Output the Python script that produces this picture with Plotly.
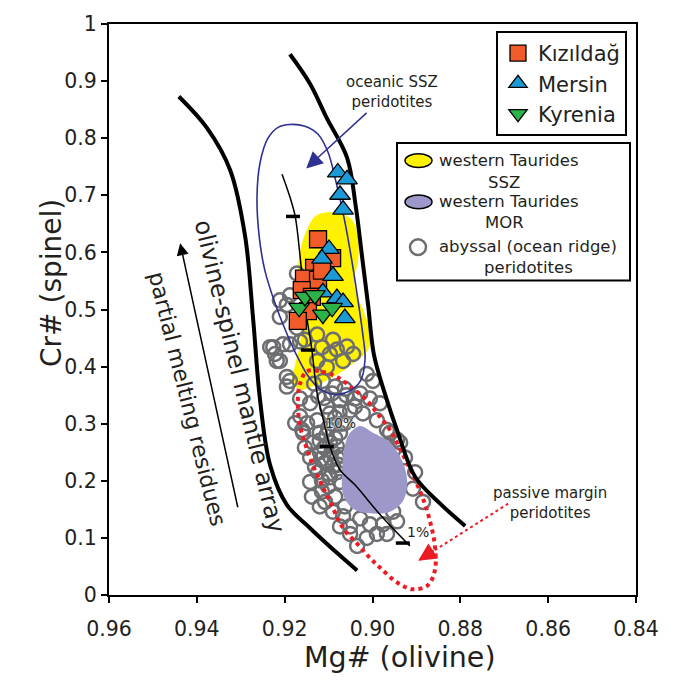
import plotly.graph_objects as go

FONT = "DejaVu Sans"

# ---------------- axes ----------------
x_tick_vals = [0.96, 0.94, 0.92, 0.90, 0.88, 0.86, 0.84]
x_tick_text = ["0.96", "0.94", "0.92", "0.90", "0.88", "0.86", "0.84"]
y_tick_vals = [0, 0.1, 0.2, 0.3, 0.4, 0.5, 0.6, 0.7, 0.8, 0.9, 1.0]
y_tick_text = ["0", "0.1", "0.2", "0.3", "0.4", "0.5", "0.6", "0.7", "0.8", "0.9", "1"]

# ---------------- sample data ----------------
kizildag_mg = [0.9124, 0.9092, 0.9133, 0.9156, 0.9124, 0.9161, 0.9138, 0.9147, 0.9170, 0.9115]
kizildag_cr = [0.623, 0.590, 0.573, 0.554, 0.552, 0.534, 0.522, 0.497, 0.480, 0.568]

mersin_mg = [0.9079, 0.9058, 0.9074, 0.9067, 0.9099, 0.9090, 0.9113, 0.9081, 0.9067, 0.9063, 0.9115]
mersin_cr = [0.740, 0.728, 0.701, 0.675, 0.606, 0.559, 0.530, 0.520, 0.513, 0.485, 0.589]

kyrenia_mg = [0.9167, 0.9154, 0.9131, 0.9113, 0.9092]
kyrenia_cr = [0.503, 0.522, 0.525, 0.491, 0.503]

abyssal_mg = [0.9172, 0.9211, 0.9195, 0.9211, 0.9188, 0.9226, 0.9204, 0.9222, 0.9211, 0.9188,
              0.9165, 0.9172, 0.9154, 0.9126, 0.9115, 0.9090, 0.9081, 0.9058, 0.9097, 0.9067,
              0.9044, 0.9126, 0.9104, 0.9188, 0.9195, 0.9133, 0.9113, 0.9013, 0.8999, 0.9028,
              0.9165, 0.9149, 0.9158, 0.9126, 0.9104, 0.9074, 0.9051, 0.9022, 0.8990, 0.8967,
              0.8944, 0.8967, 0.8960, 0.8937, 0.8908, 0.8885, 0.8953, 0.8976, 0.8967, 0.9135,
              0.9120, 0.9097, 0.9074, 0.9085, 0.9120, 0.9142, 0.9108, 0.9081, 0.9124, 0.9097,
              0.9074, 0.9142, 0.9115, 0.9085, 0.9108, 0.9063, 0.9131, 0.9063, 0.9154, 0.9101,
              0.9090, 0.9067, 0.9051, 0.9028, 0.9006, 0.8990, 0.9051, 0.9013, 0.9035, 0.9074,
              0.8944, 0.8903, 0.8926, 0.8983, 0.9006, 0.9120, 0.9138, 0.9165, 0.9142, 0.9124,
              0.9176, 0.9092, 0.9063, 0.9040, 0.9195, 0.9160, 0.9233, 0.9218,
              0.9097, 0.9085, 0.9110, 0.9090, 0.9101, 0.9120, 0.9081, 0.9070, 0.9095, 0.9115,
              0.9080, 0.9060, 0.9040, 0.9110, 0.9085,
              0.9088, 0.9075, 0.9105, 0.9093, 0.9078, 0.9117, 0.9070, 0.9100]
abyssal_cr = [0.563, 0.516, 0.508, 0.487, 0.525, 0.434, 0.439, 0.422, 0.410, 0.439,
              0.444, 0.468, 0.447, 0.456, 0.434, 0.447, 0.430, 0.435, 0.422, 0.410,
              0.422, 0.410, 0.399, 0.375, 0.365, 0.370, 0.375, 0.387, 0.375, 0.353,
              0.313, 0.301, 0.284, 0.306, 0.330, 0.341, 0.323, 0.318, 0.306, 0.289,
              0.272, 0.262, 0.284, 0.267, 0.186, 0.163, 0.146, 0.124, 0.107, 0.267,
              0.250, 0.267, 0.284, 0.310, 0.284, 0.241, 0.232, 0.241, 0.215, 0.206,
              0.198, 0.198, 0.181, 0.172, 0.163, 0.155, 0.224, 0.301, 0.258, 0.292,
              0.146, 0.138, 0.120, 0.134, 0.124, 0.107, 0.107, 0.100, 0.086, 0.120,
              0.129, 0.215, 0.241, 0.336, 0.344, 0.155, 0.172, 0.344, 0.336, 0.348,
              0.301, 0.353, 0.361, 0.344, 0.382, 0.289, 0.434, 0.410,
              0.318, 0.275, 0.258, 0.225, 0.190, 0.270, 0.260, 0.245, 0.240, 0.200,
              0.215, 0.350, 0.330, 0.345, 0.365,
              0.298, 0.320, 0.280, 0.252, 0.228, 0.238, 0.300, 0.212]

# ---------------- fields / curves ----------------
array_left_mg = [0.9441, 0.9377, 0.9324, 0.9290, 0.9272, 0.9256, 0.9233, 0.9195, 0.9142, 0.9074, 0.9035]
array_left_cr = [0.873, 0.818, 0.744, 0.628, 0.485, 0.341, 0.227, 0.158, 0.117, 0.069, 0.043]
array_right_mg = [0.9188, 0.9142, 0.9104, 0.9058, 0.9038, 0.9024, 0.9010, 0.8997, 0.8972, 0.8942, 0.8903, 0.8846, 0.8789]
array_right_cr = [0.947, 0.895, 0.835, 0.766, 0.680, 0.594, 0.508, 0.422, 0.353, 0.284, 0.207, 0.160, 0.121]

melt_mg = [0.9206, 0.9188, 0.9176, 0.9165, 0.9156, 0.9147, 0.9138, 0.9126, 0.9110, 0.9097, 0.9074, 0.9040, 0.8983, 0.8915]
melt_cr = [0.737, 0.697, 0.663, 0.594, 0.525, 0.473, 0.429, 0.353, 0.301, 0.260, 0.219, 0.193, 0.141, 0.086]
melt_tick_mg = [0.9181, 0.9147, 0.9104, 0.8931]
melt_tick_cr = [0.663, 0.429, 0.260, 0.091]

ssz_mg = [0.9188, 0.9154, 0.9124, 0.9101, 0.9083, 0.9063, 0.9047, 0.9033, 0.9022, 0.9017, 0.9028, 0.9056,
          0.9085, 0.9120, 0.9147, 0.9174, 0.9199, 0.9222, 0.9245, 0.9258, 0.9263, 0.9256, 0.9238, 0.9215, 0.9188]
ssz_cr = [0.824, 0.821, 0.807, 0.775, 0.723, 0.654, 0.585, 0.516, 0.456, 0.413, 0.374, 0.356,
          0.351, 0.361, 0.384, 0.422, 0.465, 0.511, 0.568, 0.628, 0.697, 0.757, 0.800, 0.819, 0.824]

wt_ssz_mg = [0.9108, 0.9074, 0.9047, 0.9033, 0.9033, 0.9042, 0.9035, 0.9017, 0.9003, 0.9010, 0.9040,
             0.9085, 0.9131, 0.9165, 0.9183, 0.9176, 0.9165, 0.9165, 0.9170, 0.9165, 0.9151, 0.9131, 0.9108]
wt_ssz_cr = [0.670, 0.668, 0.657, 0.628, 0.585, 0.551, 0.525, 0.491, 0.456, 0.430, 0.408,
             0.384, 0.367, 0.360, 0.374, 0.404, 0.439, 0.508, 0.559, 0.602, 0.637, 0.663, 0.670]

wt_mor_mg = [0.9028, 0.8999, 0.8960, 0.8931, 0.8921, 0.8931, 0.8960, 0.9006, 0.9044, 0.9067, 0.9069, 0.9063, 0.9051, 0.9028]
wt_mor_cr = [0.296, 0.284, 0.267, 0.232, 0.198, 0.164, 0.146, 0.143, 0.151, 0.176, 0.215, 0.262, 0.284, 0.296]

passive_mg = [0.9149, 0.9115, 0.9081, 0.9047, 0.9013, 0.8988, 0.8960, 0.8937, 0.8908, 0.8885, 0.8869, 0.8858,
              0.8858, 0.8874, 0.8908, 0.8944, 0.8983, 0.9006, 0.9035, 0.9067, 0.9097, 0.9126, 0.9149, 0.9165,
              0.9170, 0.9165, 0.9149]
passive_cr = [0.392, 0.391, 0.382, 0.363, 0.341, 0.317, 0.289, 0.255, 0.210, 0.169, 0.129, 0.086,
              0.043, 0.017, 0.010, 0.022, 0.048, 0.065, 0.090, 0.117, 0.164, 0.210, 0.255, 0.296,
              0.341, 0.370, 0.392]

# annotation anchors (data units)
ssz_label = (0.8956, 0.881)
ssz_arrow_tail = (0.9010, 0.8468)
ssz_arrow_tip = (0.9151, 0.7470)
pm_label = (0.8596, 0.162)
pm_arrow_tail = (0.8691, 0.160)
pm_arrow_tip = (0.8896, 0.060)
mantle_label = (0.9302, 0.382)
residue_label = (0.9422, 0.344)
residue_arrow_tail = (0.9306, 0.151)
residue_arrow_tip = (0.9438, 0.616)
pct10_label = (0.9072, 0.301)
pct1_label = (0.8896, 0.110)

# ---------------- colours ----------------
C_KIZ = "#f15a29"
C_MER = "#1b9ad6"
C_KYR = "#2bb34a"
C_YEL = "#fff200"
C_LAV = "#9c98c9"
C_NAVY = "#2e3192"
C_RED = "#ed1c24"
C_GRAY = "#6d6e71"
C_TXT = "#231f20"

fig = go.Figure()

fig.add_trace(go.Scatter(x=wt_ssz_mg, y=wt_ssz_cr, mode="lines", fill="toself", fillcolor=C_YEL,
                         line=dict(color=C_YEL, width=0, shape="spline"), showlegend=False, hoverinfo="skip"))
fig.add_trace(go.Scatter(x=abyssal_mg, y=abyssal_cr, mode="markers",
                         marker=dict(symbol="circle-open", size=14, color=C_GRAY, line=dict(width=2.5)),
                         showlegend=False))
fig.add_trace(go.Scatter(x=wt_mor_mg, y=wt_mor_cr, mode="lines", fill="toself", fillcolor=C_LAV,
                         line=dict(color=C_LAV, width=0, shape="spline"), showlegend=False, hoverinfo="skip"))
fig.add_trace(go.Scatter(x=passive_mg, y=passive_cr, mode="lines",
                         line=dict(color=C_RED, width=4, dash="dot", shape="spline"), showlegend=False))
fig.add_trace(go.Scatter(x=ssz_mg, y=ssz_cr, mode="lines",
                         line=dict(color=C_NAVY, width=1.6, shape="spline"), showlegend=False))
fig.add_trace(go.Scatter(x=array_left_mg, y=array_left_cr, mode="lines",
                         line=dict(color="black", width=4, shape="spline"), showlegend=False))
fig.add_trace(go.Scatter(x=array_right_mg, y=array_right_cr, mode="lines",
                         line=dict(color="black", width=4, shape="spline"), showlegend=False))
fig.add_trace(go.Scatter(x=melt_mg, y=melt_cr, mode="lines",
                         line=dict(color="black", width=1.5, shape="spline"), showlegend=False))
fig.add_trace(go.Scatter(x=melt_tick_mg, y=melt_tick_cr, mode="markers",
                         marker=dict(symbol="line-ew", size=10, line=dict(width=3.5, color="black")),
                         showlegend=False))
fig.add_trace(go.Scatter(x=[pm_arrow_tail[0], pm_arrow_tip[0]], y=[pm_arrow_tail[1], pm_arrow_tip[1]],
                         mode="lines", line=dict(color=C_RED, width=2, dash="dot"), showlegend=False))

fig.add_trace(go.Scatter(x=kizildag_mg, y=kizildag_cr, mode="markers", name="Kızıldağ", legendgroup="a",
                         marker=dict(symbol="square", size=17, color=C_KIZ, line=dict(color="black", width=1.3))))
fig.add_trace(go.Scatter(x=mersin_mg, y=mersin_cr, mode="markers", name="Mersin", legendgroup="b",
                         marker=dict(symbol="triangle-up", size=18, color=C_MER, line=dict(color="black", width=1.3))))
fig.add_trace(go.Scatter(x=kyrenia_mg, y=kyrenia_cr, mode="markers", name="Kyrenia", legendgroup="c",
                         marker=dict(symbol="triangle-down", size=18, color=C_KYR, line=dict(color="black", width=1.3))))

# ---------------- layout geometry (plot area x 109..636, y 14..595) ----------------
L, R, T, B = 109, 636, 14, 595
W, H = 681, 693


def px(xp):
    return (xp - L) / (R - L)


def py(yp):
    return (B - yp) / (B - T)


annotations = []
annotations.append(dict(x=ssz_label[0], y=ssz_label[1], xref="x", yref="y", showarrow=False,
                        text="oceanic SSZ<br>peridotites", font=dict(size=15, color=C_TXT), align="center"))
annotations.append(dict(x=ssz_arrow_tip[0], y=ssz_arrow_tip[1], ax=ssz_arrow_tail[0], ay=ssz_arrow_tail[1],
                        xref="x", yref="y", axref="x", ayref="y", text="", showarrow=True,
                        arrowhead=2, arrowsize=2.2, arrowwidth=1.5, arrowcolor=C_NAVY))
annotations.append(dict(x=pm_label[0], y=pm_label[1], xref="x", yref="y", showarrow=False,
                        text="passive margin<br>peridotites", font=dict(size=15, color=C_TXT), align="center"))
annotations.append(dict(x=pm_arrow_tip[0], y=pm_arrow_tip[1], xref="x", yref="y", ax=17, ay=-11,
                        text="", showarrow=True, arrowhead=2, arrowsize=1.8, arrowwidth=2, arrowcolor=C_RED))
annotations.append(dict(x=mantle_label[0], y=mantle_label[1], xref="x", yref="y", showarrow=False,
                        text="olivine-spinel mantle array", textangle=76.5,
                        font=dict(size=24, color=C_TXT)))
annotations.append(dict(x=residue_label[0], y=residue_label[1], xref="x", yref="y", showarrow=False,
                        text="partial melting residues", textangle=76,
                        font=dict(size=22, color=C_TXT)))
annotations.append(dict(x=residue_arrow_tip[0], y=residue_arrow_tip[1], ax=residue_arrow_tail[0],
                        ay=residue_arrow_tail[1], xref="x", yref="y", axref="x", ayref="y", text="",
                        showarrow=True, arrowhead=2, arrowsize=1.6, arrowwidth=1.5, arrowcolor="black"))
annotations.append(dict(x=pct10_label[0], y=pct10_label[1], xref="x", yref="y", showarrow=False,
                        text="10%", font=dict(size=14, color="#2a2a2a",
                                              shadow="0px 0px 2px white, 0px 0px 2px white")))
annotations.append(dict(x=pct1_label[0], y=pct1_label[1], xref="x", yref="y", showarrow=False,
                        text="1%", font=dict(size=14, color=C_TXT)))

# axis titles
annotations.append(dict(x=px(33), y=py(278), xref="paper", yref="paper", showarrow=False,
                        text="Cr# (spinel)", textangle=-90, font=dict(size=28, color=C_TXT)))
annotations.append(dict(x=px(400), y=py(677), xref="paper", yref="paper", showarrow=False,
                        text="Mg# (olivine)", font=dict(size=28.5, color=C_TXT)))

# second legend box (fields)
leg2_font = dict(size=16.5, color=C_TXT)
for txt, xc, yc in [("western Taurides", 509, 153), ("SSZ", 504, 175),
                    ("western Taurides", 509, 195), ("MOR", 504, 216),
                    ("abyssal (ocean ridge)", 528, 240), ("peridotites", 528, 262)]:
    annotations.append(dict(x=px(xc), y=py(yc), xref="paper", yref="paper", showarrow=False,
                            text=txt, font=leg2_font, xanchor="center", yanchor="middle"))

shapes = [
    dict(type="rect", xref="paper", yref="paper", x0=px(397), x1=px(630), y0=py(275), y1=py(135),
         line=dict(color="black", width=2), fillcolor="white", layer="above"),
    dict(type="circle", xref="paper", yref="paper", x0=px(405), x1=px(432), y0=py(160), y1=py(146),
         line=dict(color="black", width=1.5), fillcolor=C_YEL, layer="above"),
    dict(type="circle", xref="paper", yref="paper", x0=px(405), x1=px(432), y0=py(202), y1=py(188),
         line=dict(color="black", width=1.5), fillcolor=C_LAV, layer="above"),
    dict(type="circle", xref="paper", yref="paper", x0=px(410), x1=px(426), y0=py(249), y1=py(233),
         line=dict(color=C_GRAY, width=2.5), layer="above"),
]

fig.update_layout(
    width=W, height=H,
    margin=dict(l=L, r=W - R, t=T, b=H - B),
    paper_bgcolor="white", plot_bgcolor="white",
    font=dict(family=FONT, color=C_TXT),
    showlegend=True,
    legend=dict(x=px(496), y=py(21), xanchor="left", yanchor="top", bgcolor="white",
                bordercolor="black", borderwidth=2, font=dict(size=21, family=FONT),
                tracegroupgap=2, traceorder="normal"),
    annotations=annotations,
    shapes=shapes,
    xaxis=dict(range=[0.96, 0.84], tickvals=x_tick_vals, ticktext=x_tick_text, showgrid=False,
               zeroline=False, showline=True, linecolor="black", linewidth=2, mirror=True,
               ticks="outside", ticklen=6, tickwidth=2, tickcolor="black",
               tickfont=dict(size=20.5), ticklabelstandoff=8),
    yaxis=dict(range=[0, 1], tickvals=y_tick_vals, ticktext=y_tick_text, showgrid=False,
               zeroline=False, showline=True, linecolor="black", linewidth=2, mirror=True,
               ticks="outside", ticklen=6, tickwidth=2, tickcolor="black",
               tickfont=dict(size=20.5), ticklabeloverflow="allow"),
)

# remove the page's default 8px body margin so the figure sits at the window origin
fig.write_html("out.html", config={"displayModeBar": False, "staticPlot": True},
               post_script="document.body.style.margin='0px';")
